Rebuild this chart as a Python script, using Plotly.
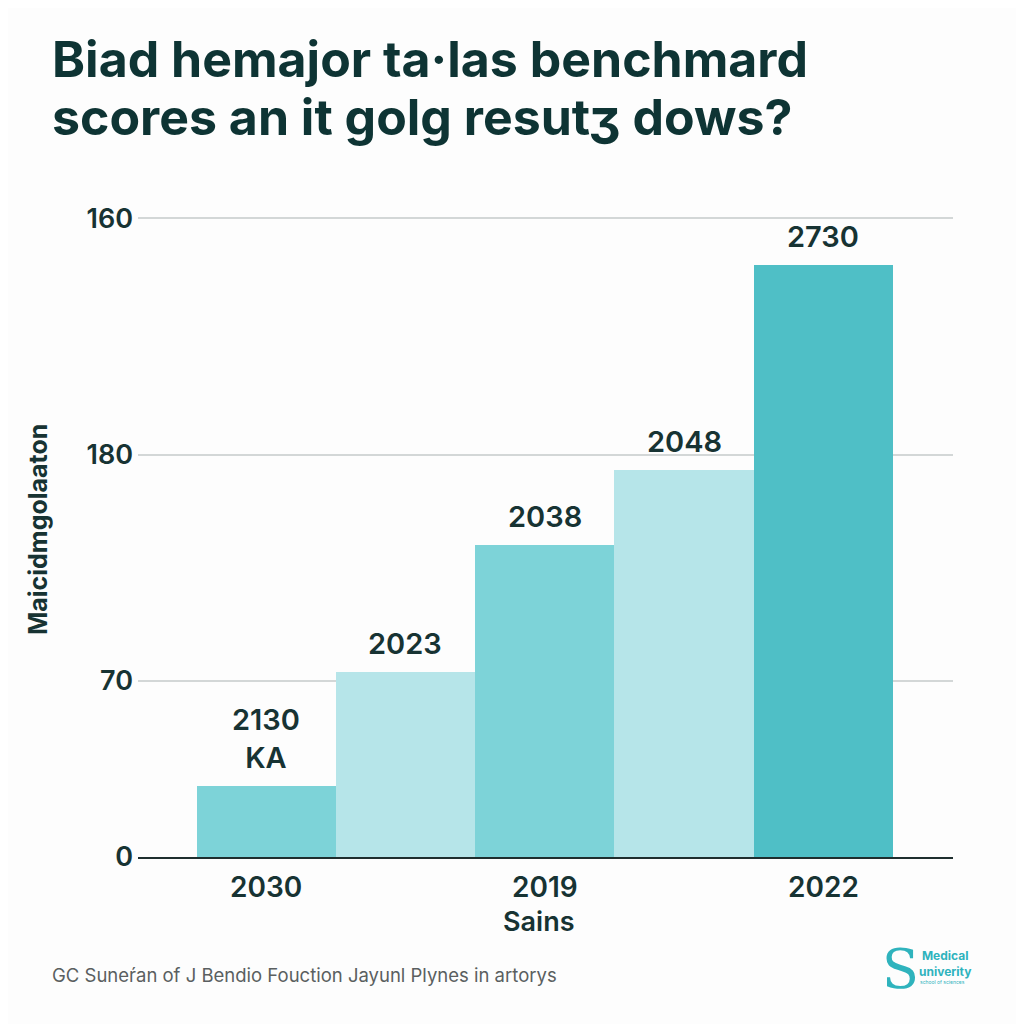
import plotly.graph_objects as go

# ---- data ----
bar_positions = [0, 1, 2, 3, 4]
bar_values = [28.2, 73.6, 124.1, 153.9, 235.5]
bar_labels = ["2130<br>KA", "2023", "2038", "2048", "2730"]
bar_colors = ["#7dd3d8", "#b6e5e9", "#7dd3d8", "#b6e5e9", "#4fbfc6"]
x_tick_positions = [0, 2, 4]
x_tick_labels = ["2030", "2019", "2022"]
y_tick_positions = [0, 70, 160, 254]
y_tick_labels = ["0", "70", "180", "160"]

title_lines = ["Biad hemajor ta·las benchmard", "scores an it golg resutʒ dows?"]
y_title = "Maicidmgolaaton"
x_title = "Sains"
footnote = "GC Suneŕan of J Bendio Fouction Jayunl Plynes in artorys"

dark = "#173333"
font_family = "Inter, 'Liberation Sans', Arial, sans-serif"

# page offset (browser body margin)
OFF = 8
L, R, T, B = 130, 79, 182, 175
PW = 1024 - L - R
PH = 1024 - T - B


def px(xp):
    return (xp - OFF - L) / PW


def py(yp):
    return (1024 - B - (yp - OFF)) / PH


fig = go.Figure()
fig.add_trace(go.Bar(
    x=bar_positions,
    y=bar_values,
    width=1.0,
    marker=dict(color=bar_colors, line=dict(width=0)),
    hoverinfo="skip",
))

annotations = []
for xp, yv, lab in zip(bar_positions, bar_values, bar_labels):
    annotations.append(dict(
        x=xp, y=yv, xref="x", yref="y", text=lab, showarrow=False,
        yanchor="bottom", yshift=9,
        font=dict(family=font_family, size=29, color=dark, weight=600),
    ))

# title lines
for txt, yc in zip(title_lines, [59, 117]):
    annotations.append(dict(
        x=px(50), y=py(yc), xref="paper", yref="paper", text=txt,
        showarrow=False, xanchor="left", yanchor="middle",
        font=dict(family=font_family, size=50, color="#0e3434", weight=700),
    ))

# y-axis title
annotations.append(dict(
    x=px(38), y=py(530), xref="paper", yref="paper", text=y_title,
    textangle=-90, showarrow=False, xanchor="center", yanchor="middle",
    font=dict(family=font_family, size=25, color=dark, weight=700),
))
# x-axis title
annotations.append(dict(
    x=px(538), y=py(921), xref="paper", yref="paper", text=x_title,
    showarrow=False, xanchor="center", yanchor="middle",
    font=dict(family=font_family, size=27, color=dark, weight=600),
))
# footnote
annotations.append(dict(
    x=px(50), y=py(975), xref="paper", yref="paper", text=footnote,
    showarrow=False, xanchor="left", yanchor="middle",
    font=dict(family=font_family, size=18.5, color="#5a5f60"),
))
# logo
annotations.append(dict(
    x=px(900), y=py(969), xref="paper", yref="paper", text="S", showarrow=False,
    xanchor="center", yanchor="middle",
    font=dict(family="'DejaVu Serif', serif", size=54, color="#2fb3bd"),
))
annotations.append(dict(
    x=px(917), y=py(963), xref="paper", yref="paper",
    text="<b>Medical</b><br><b>univerity</b>",
    showarrow=False, xanchor="left", yanchor="middle",
    font=dict(family=font_family, size=12, color="#2fb3bd"),
))
annotations.append(dict(
    x=px(918), y=py(982), xref="paper", yref="paper", text="school of sciences",
    showarrow=False, xanchor="left", yanchor="middle",
    font=dict(family=font_family, size=5, color="#2fb3bd"),
))

fig.update_layout(
    width=1024, height=1024,
    paper_bgcolor="#fdfdfd", plot_bgcolor="#fdfdfd",
    margin=dict(l=L, r=R, t=T, b=B),
    bargap=0,
    showlegend=False,
    xaxis=dict(
        range=[-0.92, 4.93],
        tickmode="array", tickvals=x_tick_positions, ticktext=x_tick_labels,
        showgrid=False, zeroline=False,
        showline=True, linecolor="#1e2e2e", linewidth=2,
        ticks="", ticklabelstandoff=4,
        tickfont=dict(family=font_family, size=28, color=dark, weight=600),
        fixedrange=True,
    ),
    yaxis=dict(
        range=[0, 265.3],
        tickmode="array", tickvals=y_tick_positions, ticktext=y_tick_labels,
        showgrid=True, gridcolor="#d3d7d7", gridwidth=1.5,
        zeroline=False, showline=False, ticks="", ticklabelstandoff=4,
        tickfont=dict(family=font_family, size=27, color=dark, weight=600),
        fixedrange=True,
    ),
    annotations=annotations,
)

fig.write_html("out.html")
